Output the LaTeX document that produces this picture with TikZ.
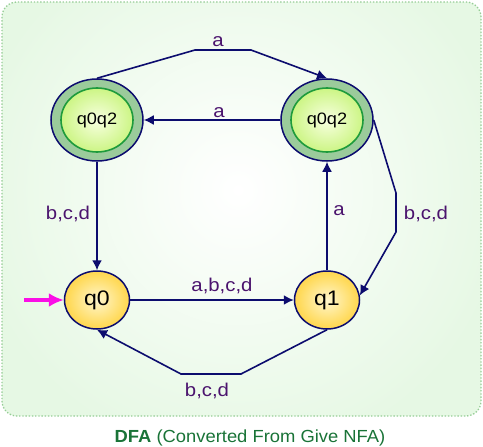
\documentclass[tikz,border=0pt]{standalone}
\usepackage{fontspec}
\setmainfont{Liberation Sans}[FakeStretch=1.1]
\newfontfamily\capfont{Liberation Sans}[FakeStretch=1.05]
\usetikzlibrary{shapes.geometric,arrows.meta}
\definecolor{bgc}{RGB}{230,248,228}
\definecolor{bgborder}{RGB}{150,205,150}
\definecolor{navy}{RGB}{12,12,110}
\definecolor{lblc}{RGB}{75,20,110}
\definecolor{capc}{RGB}{25,115,55}
\definecolor{goldin}{RGB}{255,246,205}
\definecolor{goldmid}{RGB}{255,218,90}
\definecolor{goldout}{RGB}{243,185,35}
\definecolor{limein}{RGB}{248,255,225}
\definecolor{limeout}{RGB}{160,235,40}
\definecolor{ringc}{RGB}{155,203,155}
\definecolor{ringin}{RGB}{30,155,60}
\definecolor{magc}{RGB}{250,15,230}
\pgfdeclareradialshading{goldball}{\pgfpoint{0bp}{0bp}}{color(0bp)=(goldin); color(22bp)=(goldmid); color(50bp)=(goldout); color(72bp)=(goldout)}
\pgfdeclareradialshading{limeball}{\pgfpoint{0bp}{0bp}}{color(0bp)=(limein); color(50bp)=(limeout); color(72bp)=(limeout)}
\tikzset{
  state/.style={ellipse, draw=navy, line width=1.5pt, shading=goldball,
    minimum width=65pt, minimum height=58pt, inner sep=0pt,
    font=\fontsize{21}{24}\selectfont},
  accout/.style={ellipse, draw=navy, line width=1.5pt, fill=ringc,
    minimum width=92pt, minimum height=82pt, inner sep=0pt},
  accin/.style={ellipse, draw=ringin, line width=1.6pt, shading=limeball,
    minimum width=72pt, minimum height=64pt, inner sep=0pt,
    font=\fontsize{16.5}{19}\selectfont},
  edge/.style={draw=navy, line width=1.6pt, -{Latex[length=10pt,width=10pt]}},
  startarrow/.style={draw=magc, line width=3.5pt, -{Latex[length=15pt,width=14pt]}},
  lbl/.style={text=lblc, anchor=base, inner sep=0pt, font=\fontsize{18.5}{21}\selectfont},
  captext/.style={text=capc, anchor=base, inner sep=0pt, font=\capfont\fontsize{17.5}{20}\selectfont}
}
\begin{document}
\begin{tikzpicture}[x=1pt,y=-1pt]
\useasboundingbox (0,0) rectangle (483,447);
% background panel
\fill[bgc, rounded corners=15pt] (2,2) rectangle (481,416);
\begin{scope}
  \clip[rounded corners=15pt] (2,2) rectangle (481,416);
  \shade[inner color=white, outer color=bgc] (238,190) circle (270);
\end{scope}
\draw[bgborder, line width=1.3pt, dash pattern=on 1.4pt off 1.8pt, rounded corners=15pt] (2,2) rectangle (481,416);

% states
\node[accout] (A) at (97,120) {};
\node[accin] (Ai) at (97,120) {q0q2};
\node[accout] (B) at (327,120) {};
\node[accin] (Bi) at (327,120) {q0q2};
\node[state] (q0) at (97,300) {q0};
\node[state] (q1) at (327,300) {q1};

% bend points
\coordinate (t1) at (195,50);
\coordinate (t2) at (251,50);
\coordinate (r1) at (396,193);
\coordinate (r2) at (396,232);
\coordinate (b1) at (241,374);
\coordinate (b2) at (181,374);
\coordinate (s) at (24,300);

% connectors
\draw[edge] (A.north) -- (t1) -- (t2) -- (B.north);
\draw[edge] (B.west) -- (A.east);
\draw[edge] (A.south) -- (q0.north);
\draw[edge] (q1.north) -- (B.south);
\draw[edge] (B.east) -- (r1) -- (r2) -- (q1.8);
\draw[edge] (q0.east) -- (q1.west);
\draw[edge] (q1.south) -- (b1) -- (b2) -- (q0.south);
\draw[startarrow] (s) -- (q0.west);

% labels
\node[lbl] (l1) at (218,46) {a};
\node[lbl] (l2) at (219,117) {a};
\node[lbl] (l3) at (68,219) {b,c,d};
\node[lbl] (l4) at (339,215) {a};
\node[lbl] (l5) at (426,219) {b,c,d};
\node[lbl] (l6) at (222,291) {a,b,c,d};
\node[lbl] (l7) at (207,396) {b,c,d};

% caption
\node[captext] (cap) at (250,442) {\textbf{DFA} (Converted From Give NFA)};
\end{tikzpicture}
\end{document}
